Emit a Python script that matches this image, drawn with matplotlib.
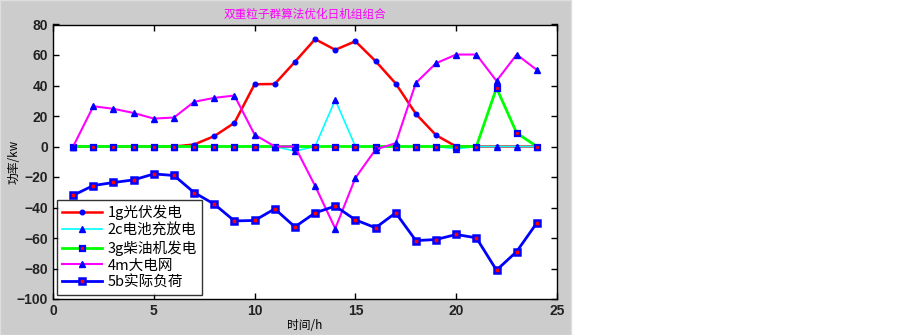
import matplotlib
matplotlib.use("Agg")
import matplotlib.pyplot as plt
from matplotlib.patches import Rectangle

plt.rcParams['font.family'] = ['Liberation Sans', 'Noto Sans CJK SC', 'DejaVu Sans']

hours = list(range(1, 25))
pv = [0, 0, 0, 0, 0, 0, 1.3, 6.8, 15.5, 40.8, 41, 55.5, 70.4, 63.4, 69, 56, 41.3, 21.4, 7.4, 0, 0, 0, 0, 0]
battery = [0, 0, 0, 0, 0, 0, 0, 0, 0, 0, 0, -3, 0, 30.6, 0, 0, 0, 0, 0, -1.5, 0, 0, 0, 0]
diesel = [0, 0, 0, 0, 0, 0, 0, 0, 0, 0, 0, 0, 0, 0, 0, 0, 0, 0, 0, 0, 0, 38.4, 8.9, 0]
grid = [0, 26.4, 24.7, 22, 18.3, 19, 29.3, 31.9, 33.4, 7.8, 0, 0, -25.8, -53.8, -20.6, -2, 2.2, 41.7, 54.6, 60.3, 60.3, 43, 60.3, 50.2]
load = [-32, -25.6, -23.6, -21.9, -18, -19, -30.2, -37.8, -48.8, -48.5, -40.9, -52.7, -43.5, -39.1, -48.1, -53.3, -43.5, -61.7, -61, -57.7, -59.9, -81.1, -68.9, -50.1]

labels = ['1g光伏发电', '2c电池充放电', '3g柴油机发电', '4m大电网', '5b实际负荷']
title = '双重粒子群算法优化日机组组合'
xticks = [0, 5, 10, 15, 20, 25]
yticks = [-100, -80, -60, -40, -20, 0, 20, 40, 60, 80]

cjk = ['Noto Sans CJK SC', 'DejaVu Sans']

fig = plt.figure(figsize=(9, 3.35), dpi=100)
fig.patch.set_facecolor('white')
fig.patches.append(Rectangle((0, 0), 571 / 900, 1, transform=fig.transFigure,
                             facecolor='#cccccc', edgecolor='#dedede', lw=1, zorder=-10))

ax = fig.add_axes([53 / 900, 36 / 335, 504 / 900, 274.5 / 335])
ax.set_facecolor('white')

ax.plot(hours, pv, color='red', lw=1.8, marker='o', ms=3.3, mfc='blue', mec='blue', label=labels[0])
ax.plot(hours, battery, color='cyan', lw=1.2, marker='^', ms=4, mfc='blue', mec='blue', label=labels[1])
ax.plot(hours, diesel, color='#00ff00', lw=2, marker='s', ms=3.6, mfc='red', mec='blue', mew=1.6, label=labels[2])
ax.plot(hours, grid, color='magenta', lw=1.5, marker='^', ms=4, mfc='blue', mec='blue', label=labels[3])
ax.plot(hours, load, color='blue', lw=2, marker='s', ms=4, mfc='red', mec='blue', mew=1.8, label=labels[4])

ax.set_xlim(0, 25)
ax.set_ylim(-100, 80)
ax.set_xticks(xticks)
ax.set_yticks(yticks)
ax.tick_params(direction='in', top=True, right=True, length=4, labelsize=10, width=1)
for lbl in ax.get_xticklabels() + ax.get_yticklabels():
    lbl.set_fontweight('bold')
    lbl.set_color('#222222')
for sp in ax.spines.values():
    sp.set_linewidth(1)

ax.set_title(title, color='magenta', fontsize=8.4, pad=5, family=cjk)
ax.set_xlabel('时间/h', fontsize=8.5, labelpad=1, family=cjk)
ax.set_ylabel('功率/kw', fontsize=8.5, family=cjk)
ax.yaxis.set_label_coords(-0.065, 0.5)

leg = ax.legend(loc='lower left', frameon=True, fancybox=False, edgecolor='black',
                borderaxespad=0.3, handlelength=2.7, handletextpad=0.4, labelspacing=0.2,
                borderpad=0.35, prop={'family': cjk, 'size': 10.5})
leg.get_frame().set_linewidth(1)

fig.savefig('out.png', dpi=100)
